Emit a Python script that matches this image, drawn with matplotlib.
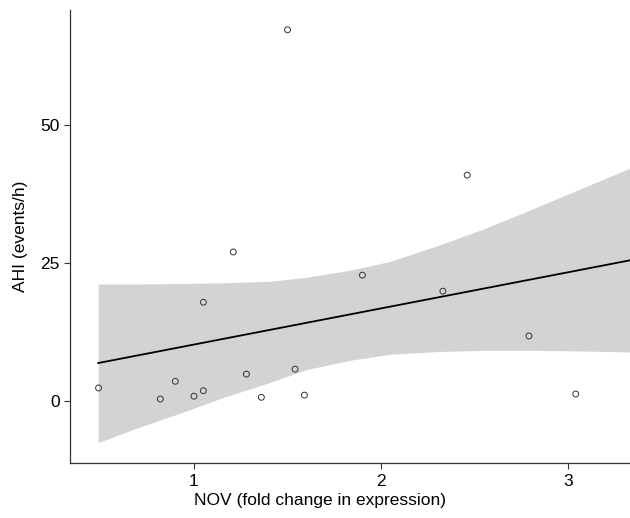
import numpy as np
import matplotlib.pyplot as plt

plt.rcParams['font.family'] = ['Liberation Sans', 'DejaVu Sans']

# NOV fold change vs AHI
nov = [0.49, 0.82, 0.90, 1.00, 1.05, 1.05, 1.21, 1.28, 1.36, 1.50, 1.54, 1.59,
       1.90, 2.33, 2.46, 2.79, 3.04]
ahi = [2.4, 0.4, 3.6, 0.9, 1.9, 17.9, 27.0, 4.9, 0.7, 67.2, 5.8, 1.1,
       22.8, 19.9, 40.9, 11.8, 1.3]

# fitted line and confidence band
fit_x = [0.488, 3.332]
fit_y = [6.9, 25.5]
band_x = [0.488, 0.70, 0.941, 1.15, 1.406, 1.60, 1.834, 2.05, 2.316, 2.55, 2.797, 3.05, 3.332]
band_hi = [21.2, 21.2, 21.3, 21.4, 21.7, 22.4, 23.7, 25.3, 28.3, 31.2, 34.6, 38.2, 42.2]
band_lo = [-7.5, -4.8, -2.0, 0.6, 3.4, 5.7, 7.4, 8.5, 9.0, 9.2, 9.2, 9.1, 8.9]

fig = plt.figure(figsize=(6.3, 5.18), dpi=100)
ax = fig.add_axes([0.111, 0.106, 0.889, 0.875])

ax.fill_between(band_x, band_lo, band_hi, color='#d3d3d3', lw=0)
ax.plot(fit_x, fit_y, color='black', lw=1.3)
ax.scatter(nov, ahi, s=18, facecolors='none', edgecolors='#333333', linewidths=0.7, zorder=3)

ax.set_xlim(0.337, 3.33)
ax.set_ylim(-11.2, 70.8)
ax.set_xticks([1, 2, 3])
ax.set_yticks([0, 25, 50])
ax.tick_params(length=4, width=0.8, labelsize=12.5, colors='#333333', labelcolor='black')
for side in ['top', 'right']:
    ax.spines[side].set_visible(False)
for side in ['left', 'bottom']:
    ax.spines[side].set_color('#333333')
    ax.spines[side].set_linewidth(0.9)

ax.set_xlabel('NOV (fold change in expression)', fontsize=12.5)
ax.set_ylabel('AHI (events/h)', fontsize=12.5)
ax.xaxis.set_label_coords(0.446, -0.065)
ax.yaxis.set_label_coords(-0.075, 0.5)

fig.savefig('out.png', dpi=100)
